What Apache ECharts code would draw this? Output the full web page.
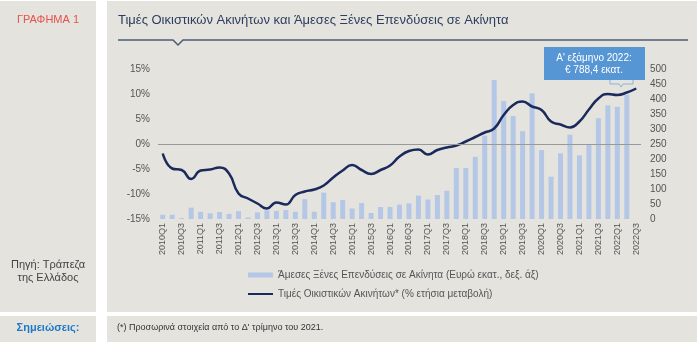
<!DOCTYPE html>
<html>
<head>
<meta charset="utf-8">
<script src="https://cdn.jsdelivr.net/npm/echarts@6/dist/echarts.min.js"></script>
<style>
  html, body { margin: 0; padding: 0; background: #fff; }
  #chart { width: 700px; height: 350px; }
</style>
</head>
<body>
<div id="chart"></div>
<script>
// quarters 2010Q1 - 2022Q3
var quarters = [
  "2010Q1","2010Q2","2010Q3","2010Q4","2011Q1","2011Q2","2011Q3","2011Q4",
  "2012Q1","2012Q2","2012Q3","2012Q4","2013Q1","2013Q2","2013Q3","2013Q4",
  "2014Q1","2014Q2","2014Q3","2014Q4","2015Q1","2015Q2","2015Q3","2015Q4",
  "2016Q1","2016Q2","2016Q3","2016Q4","2017Q1","2017Q2","2017Q3","2017Q4",
  "2018Q1","2018Q2","2018Q3","2018Q4","2019Q1","2019Q2","2019Q3","2019Q4",
  "2020Q1","2020Q2","2020Q3","2020Q4","2021Q1","2021Q2","2021Q3","2021Q4",
  "2022Q1","2022Q2","2022Q3"
];

// foreign direct investment in real estate (EUR mn, right axis)
var fdi = [
  14, 14, 3, 38, 24, 19, 23, 17,
  26, 5, 22, 29, 27, 30, 24, 66,
  24, 88, 56, 63, 35, 53, 20, 40,
  40, 48, 52, 78, 65, 80, 94, 170,
  170, 207, 278, 463, 393, 343, 293, 419,
  230, 141, 219, 281, 212, 247, 336, 379,
  374, 414, null
];

// residential property prices (% yoy, left axis)
var prices = [
  -1.9, -4.9, -5.2, -7.0, -5.3, -5.1, -4.7, -5.9,
  -9.9, -10.9, -11.9, -12.9, -11.7, -12.1, -10.2, -9.5,
  -9.1, -8.3, -6.7, -5.3, -4.2, -5.2, -6.0, -5.2,
  -4.3, -2.5, -1.4, -1.1, -2.1, -1.2, -0.7, -0.3,
  0.5, 1.4, 2.3, 3.1, 5.8, 7.8, 8.5, 7.5,
  6.8, 4.5, 3.9, 3.3, 4.5, 6.9, 9.1, 10.0,
  9.8, 10.3, 11.1
];

var pctTicks = { min: -15, max: 15, step: 5 };
var eurTicks = { min: 0, max: 500, step: 50 };

var barName = "Άμεσες Ξένες Επενδύσεις σε Ακίνητα (Ευρώ εκατ., δεξ. άξ)";
var lineName = "Τιμές Οικιστικών Ακινήτων* (% ετήσια μεταβολή)";

var font = "Arial, 'Liberation Sans', sans-serif";
var panel = "#e4e3de";

var chart = echarts.init(document.getElementById("chart"), null, { renderer: "canvas" });

var option = {
  animation: false,
  textStyle: { fontFamily: font },
  graphic: [
    // panels
    { type: "rect", z: -10, shape: { x: 0, y: 1, width: 96, height: 311 }, style: { fill: panel } },
    { type: "rect", z: -10, shape: { x: 107, y: 1, width: 590, height: 311 }, style: { fill: panel } },
    { type: "rect", z: -10, shape: { x: 0, y: 316, width: 96, height: 26 }, style: { fill: panel } },
    { type: "rect", z: -10, shape: { x: 107, y: 316, width: 590, height: 26 }, style: { fill: panel } },
    // left column text
    { type: "text", x: 48, y: 20, style: { text: "ΓΡΑΦΗΜΑ 1", fill: "#e5534b", font: "11px " + font, align: "center", verticalAlign: "middle" } },
    { type: "text", x: 48, y: 271, style: { text: "Πηγή: Τράπεζα\nτης Ελλάδος", fill: "#444", font: "11px " + font, align: "center", verticalAlign: "middle", lineHeight: 13 } },
    { type: "text", x: 48, y: 328, style: { text: "Σημειώσεις:", fill: "#1e78c8", font: "bold 11px " + font, align: "center", verticalAlign: "middle" } },
    { type: "text", x: 117, y: 328, style: { text: "(*) Προσωρινά στοιχεία από το Δ' τρίμηνο του 2021.", fill: "#333", font: "9px " + font, verticalAlign: "middle" } },
    // title and underline with notch
    { type: "text", x: 118, y: 20, style: { text: "Τιμές Οικιστικών Ακινήτων και Άμεσες Ξένες Επενδύσεις σε Ακίνητα", fill: "#2d3e5e", font: "13px " + font, verticalAlign: "middle" } },
    { type: "polyline", shape: { points: [[118, 40], [173, 40], [178, 45], [183, 40], [688, 40]] }, style: { stroke: "#4b5d78", lineWidth: 1.5, fill: null } },
    // callout box
    { type: "rect", z: 100, shape: { x: 544, y: 47, width: 101, height: 33 }, style: { fill: "#5696d4" } },
    { type: "text", z: 101, x: 594, y: 64, style: { text: "Α' εξάμηνο 2022:\n€ 788,4 εκατ.", fill: "#fff", font: "10px " + font, align: "center", verticalAlign: "middle", lineHeight: 12 } },
    { type: "polyline", z: 100, shape: { points: [[610, 80], [610, 84], [619, 84], [621, 87], [623, 84], [633, 84], [633, 80]] }, style: { stroke: "#8fb3d9", lineWidth: 1, fill: null } }
  ],
  legend: {
    orient: "vertical",
    left: 242,
    top: 265,
    itemWidth: 25,
    itemHeight: 5,
    itemGap: 9,
    textStyle: { fontSize: 10, color: "#555", fontFamily: font },
    data: [
      { name: barName, icon: "rect" },
      { name: lineName, itemStyle: { opacity: 0 }, lineStyle: { width: 2 } }
    ]
  },
  grid: { left: 158, right: 59, top: 69, bottom: 131 },
  xAxis: {
    type: "category",
    data: quarters,
    axisLine: { show: false },
    axisTick: { show: false },
    axisLabel: { interval: 1, rotate: 90, fontSize: 9, color: "#555", margin: 4 }
  },
  yAxis: [
    {
      type: "value",
      min: pctTicks.min, max: pctTicks.max, interval: pctTicks.step,
      axisLine: { show: false }, axisTick: { show: false }, splitLine: { show: false },
      axisLabel: { formatter: "{value}%", fontSize: 10, color: "#555", margin: 8 }
    },
    {
      type: "value",
      min: eurTicks.min, max: eurTicks.max, interval: eurTicks.step,
      axisLine: { show: false }, axisTick: { show: false }, splitLine: { show: false },
      axisLabel: { fontSize: 10, color: "#555", margin: 9 }
    }
  ],
  series: [
    {
      name: barName,
      type: "bar",
      yAxisIndex: 1,
      barWidth: 5,
      itemStyle: { color: "#b4c7e7" },
      data: fdi
    },
    {
      name: lineName,
      type: "line",
      yAxisIndex: 0,
      smooth: true,
      symbol: "none",
      lineStyle: { color: "#1b2a5c", width: 2.5 },
      itemStyle: { color: "#1b2a5c" },
      data: prices,
      markLine: {
        silent: true,
        symbol: "none",
        label: { show: false },
        lineStyle: { color: "#999", width: 1, type: "solid" },
        data: [{ yAxis: 0 }]
      }
    }
  ]
};

chart.setOption(option);
</script>
</body>
</html>
